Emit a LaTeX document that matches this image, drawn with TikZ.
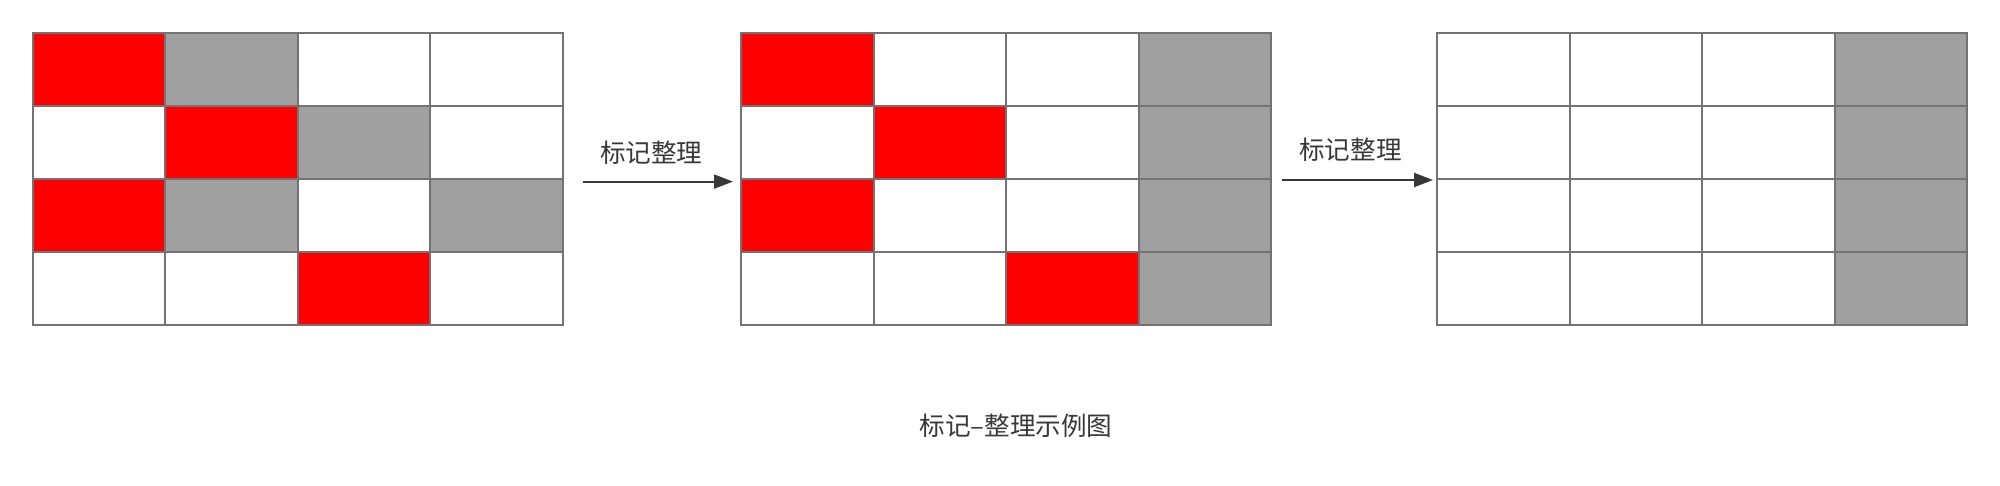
\documentclass[tikz,border=0pt]{standalone}
\usepackage{fontspec}
\setmainfont{Noto Sans CJK SC}
\usepackage{xcolor}
\usetikzlibrary{arrows.meta}

\definecolor{markred}{HTML}{FF0000}
\definecolor{livegray}{HTML}{A0A0A0}
\definecolor{cellline}{HTML}{737373}
\definecolor{inkgray}{HTML}{383838}

\begin{document}
\begin{tikzpicture}[x=0.5pt, y=-0.5pt,
  cell/.style={draw=cellline, line width=1pt, minimum width=66.25pt,
    minimum height=36.55pt, inner sep=0pt, outer sep=0pt},
  flow/.style={draw=inkgray, line width=1pt, -{Triangle[length=9.5pt, width=7pt]}},
  lbl/.style={text=inkgray, font=\fontsize{12.8}{15}\selectfont, inner sep=0pt}]
  \useasboundingbox (0,0) rectangle (2000,486);

  % Grid before: marked (red) and live (gray) blocks scattered
  \foreach \cols [count=\i] in {{markred,livegray,white,white},{white,markred,livegray,white},
      {markred,livegray,white,livegray},{white,white,markred,white}}
    \foreach \c [count=\j] in \cols
      \node[cell, fill=\c] (a\i\j) at ({32.5+(\j-0.5)*132.5},{33+(\i-0.5)*73.1}) {};

  % Grid in between: live blocks moved to one side
  \foreach \cols [count=\i] in {{markred,white,white,livegray},{white,markred,white,livegray},
      {markred,white,white,livegray},{white,white,markred,livegray}}
    \foreach \c [count=\j] in \cols
      \node[cell, fill=\c] (b\i\j) at ({741+(\j-0.5)*132.5},{33+(\i-0.5)*73.1}) {};

  % Grid after: marked blocks cleared
  \foreach \cols [count=\i] in {{white,white,white,livegray},{white,white,white,livegray},
      {white,white,white,livegray},{white,white,white,livegray}}
    \foreach \c [count=\j] in \cols
      \node[cell, fill=\c] (c\i\j) at ({1437+(\j-0.5)*132.5},{33+(\i-0.5)*73.1}) {};

  % Arrows with labels
  \draw[flow] ([xshift=10pt, yshift=-1.2pt]a24.south east)
    -- node[lbl, midway, xshift=-3.25pt, yshift=14.5pt] (t1) {标记整理}
    ([xshift=-4pt, yshift=-1.2pt]b21.south west);
  \draw[flow] ([xshift=5.5pt, yshift=-0.4pt]b24.south east)
    -- node[lbl, midway, xshift=-3.5pt, yshift=15pt] (t2) {标记整理}
    ([xshift=-2pt, yshift=-0.4pt]c21.south west);

  % Caption
  \node[lbl] (cap) at (1016,426) {标记–整理示例图};
\end{tikzpicture}
\end{document}
